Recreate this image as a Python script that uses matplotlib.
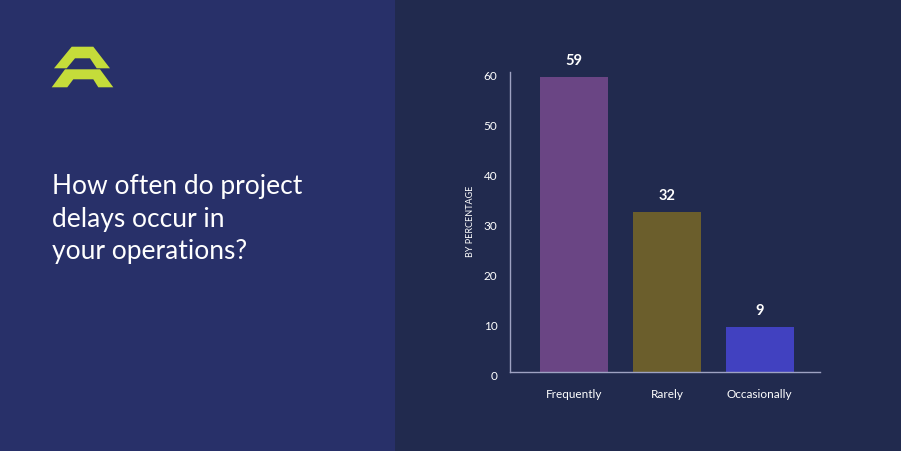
import matplotlib.pyplot as plt
import matplotlib.transforms as mtransforms
from matplotlib.patches import Polygon, Rectangle

categories = ["Frequently", "Rarely", "Occasionally"]
values = [59, 32, 9]
bar_colors = ["#6a4584", "#6b5e2c", "#4141c0"]
y_ticks = [0, 10, 20, 30, 40, 50, 60]
title_text = "How often do project\ndelays occur in\nyour operations?"
y_label = "BY PERCENTAGE"

W, H = 901, 451
LEFT_BG = "#283069"
RIGHT_BG = "#212a4e"
AXIS_COLOR = "#9ea2c2"
TEXT_COLOR = "#ffffff"
LOGO_COLOR = "#c5dc3a"

plt.rcParams["font.family"] = ["Lato", "DejaVu Sans"]

fig = plt.figure(figsize=(W / 100, H / 100), dpi=100)
fig.patch.set_facecolor(RIGHT_BG)

# background panels + logo in pixel coordinates
bg = fig.add_axes([0, 0, 1, 1])
bg.set_xlim(0, W)
bg.set_ylim(H, 0)
bg.axis("off")
bg.add_patch(Rectangle((0, 0), 395, H, color=LEFT_BG, lw=0))
bg.add_patch(Polygon([(71.7, 46.7), (93.3, 46.7), (110, 68.3), (96.7, 68.3),
                      (90, 58.3), (75, 58.3), (66.7, 68.3), (54, 68.3)],
                     closed=True, color=LOGO_COLOR, lw=0))
bg.add_patch(Polygon([(65, 69.3), (100, 69.3), (113.3, 87.3), (98.3, 87.3),
                      (93.3, 79.3), (73.3, 79.3), (67.3, 87.3), (51.7, 87.3)],
                     closed=True, color=LOGO_COLOR, lw=0))
bg.text(52, 219, title_text, color=TEXT_COLOR, fontsize=19, fontweight="normal",
        va="center", ha="left", linespacing=1.36)

# bar chart
ax0, ax1 = 510 / W, 820 / W
ay0, ay1 = 1 - 371.5 / H, 1 - 71.5 / H
ax = fig.add_axes([ax0, ay0, ax1 - ax0, ay1 - ay0])
ax.set_facecolor("none")
x = list(range(len(categories)))
ax.bar(x, values, width=0.73, color=bar_colors)
ax.set_xlim(-0.69, 2.65)
ax.set_ylim(0, 59.0)

for xi, v in zip(x, values):
    ax.annotate(str(v), (xi, v), xytext=(0, 6), textcoords="offset points",
                ha="center", va="bottom", color=TEXT_COLOR, fontsize=10.5,
                fontweight="bold", annotation_clip=False)

ax.set_yticks(y_ticks)
ax.set_xticks(x)
ax.set_xticklabels(categories)
ax.tick_params(axis="both", length=0, colors=TEXT_COLOR, labelsize=8.5)
ax.tick_params(axis="y", pad=9)
ax.tick_params(axis="x", pad=12.5)
offset = mtransforms.ScaledTranslation(0, -3 / 72, fig.dpi_scale_trans)
for lbl in ax.get_yticklabels():
    lbl.set_transform(lbl.get_transform() + offset)
ax.set_ylabel(y_label, color=TEXT_COLOR, fontsize=6.5, labelpad=6)
for side in ["top", "right"]:
    ax.spines[side].set_visible(False)
for side in ["left", "bottom"]:
    ax.spines[side].set_color(AXIS_COLOR)
    ax.spines[side].set_linewidth(1)

fig.savefig("out.png", dpi=100, facecolor=fig.get_facecolor())
